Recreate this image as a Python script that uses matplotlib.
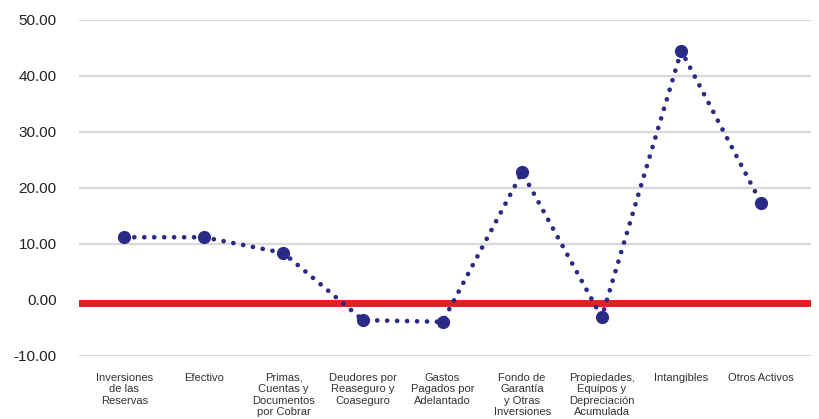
import matplotlib
matplotlib.use('Agg')
import matplotlib.pyplot as plt

##########################################################################################
# Data
categorias = ['Inversiones\nde las\nReservas', 'Efectivo', 'Primas,\nCuentas y\nDocumentos\npor Cobrar',
              'Deudores por\nReaseguro y\nCoaseguro', 'Gastos\nPagados por\nAdelantado',
              'Fondo de\nGarantía\ny Otras\nInversiones', 'Propiedades,\nEquipos y\nDepreciación\nAcumulada',
              'Intangibles', 'Otros Activos']
valores = [11.2, 11.2, 8.4, -3.6, -3.9, 22.8, -3.1, 44.5, 17.4]
y_ticks = [-10, 0, 10, 20, 30, 40, 50]

azul = '#2b2a84'
rojo = '#e31e24'
gris = '#d9d9d9'

##########################################################################################
# Figure
fig = plt.figure(figsize=(8.2, 4.19), dpi=100)
ax = fig.add_axes([0.0963, 0.1504, 0.8927, 0.8019])

x = list(range(len(categorias)))
ax.set_xlim(-0.57, 8.63)
ax.set_ylim(-10, 50)
ax.set_yticks(y_ticks)
ax.set_yticklabels(['%.2f' % v for v in y_ticks], fontsize=11, family='Liberation Sans', color='#222222')
ax.set_xticks(x)
ax.set_xticklabels(categorias, fontsize=8, family=['Liberation Sans Narrow', 'Liberation Sans'],
                   color='#333333', va='top', linespacing=1.2)
ax.tick_params(axis='both', length=0)
ax.tick_params(axis='y', pad=16)
ax.tick_params(axis='x', pad=12)
for s in ax.spines.values():
    s.set_visible(False)

##########################################################################################
# Grid and reference line
for t in y_ticks:
    if t != 0:
        ax.axhline(t, color=gris, lw=1.6, zorder=1)
ax.axhline(-0.5, color=rojo, lw=5, zorder=2)

##########################################################################################
# Series
ax.plot(x, valores, color=azul, lw=3.4, linestyle=(0, (0.01, 2.1)), dash_capstyle='round',
        marker='o', markersize=9.5, markeredgewidth=0, zorder=3)

##########################################################################################
fig.savefig('out.png', dpi=100)
plt.close(fig)
